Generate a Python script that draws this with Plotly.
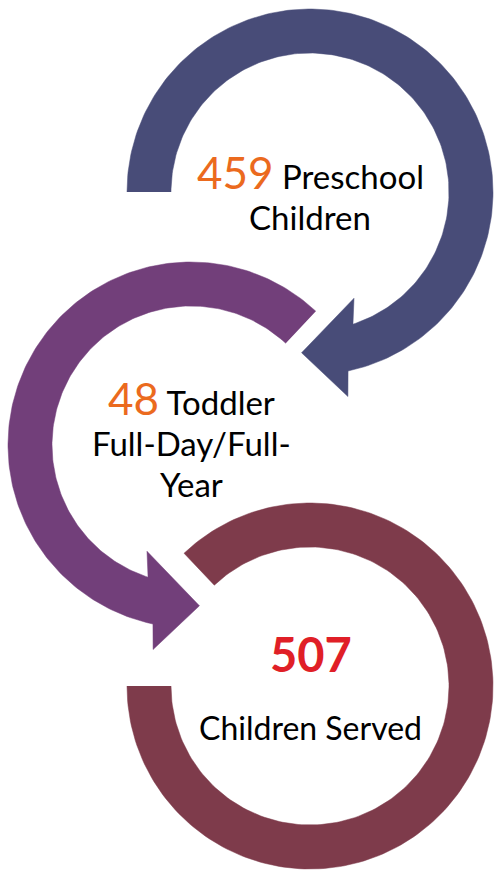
import numpy as np
import plotly.graph_objects as go

# Data
counts = [459, 48, 507]
labels = ["Preschool", "Children", "Toddler", "Full-Day/Full-", "Year", "Children Served"]

# Geometry (pixel space, y down)
W, H = 495, 871
R_OUT, R_IN = 183, 139
centers = [(310, 192), (191, 445), (310, 686)]
colors = ["#484C78", "#723F7A", "#7E3B4B"]
ORANGE = "#EB6A1E"
RED = "#E01F27"


def pt(c, r, a):
    t = np.radians(a)
    return c[0] + r * np.cos(t), c[1] - r * np.sin(t)


def arc(c, r, a0, a1, n=200):
    t = np.radians(np.linspace(a0, a1, n))
    return list(c[0] + r * np.cos(t)), list(c[1] - r * np.sin(t))


def arrow(c, a_start, head, mirror=False):
    # head: (r, angle) for inner head, shaft inner end, shaft outer end, outer head, tip
    if mirror:
        head = [(r, 180 - a) for r, a in head]
    hi, si, so, ho, tip = head
    xs, ys = arc(c, R_OUT, a_start, so[1])
    for r, a in [ho, tip, hi, si]:
        x, y = pt(c, r, a)
        xs.append(x)
        ys.append(y)
    xi, yi = arc(c, R_IN, si[1], a_start)
    xs += xi
    ys += yi
    return xs, ys


head_top = [(115, -67.5), (139, -72), (183, -78), (208, -79.5), (161, -93)]

fig = go.Figure()

shapes_xy = [
    arrow(centers[0], 180, head_top),
    arrow(centers[1], 47, head_top, mirror=True),
]
# bottom ring: open ring from 180 going round to 133.5
xo, yo = arc(centers[2], R_OUT, 180, 493.5)
xi, yi = arc(centers[2], R_IN, 493.5, 180)
shapes_xy.append((xo + xi, yo + yi))

for (xs, ys), col in zip(shapes_xy, colors):
    fig.add_trace(go.Scatter(x=xs, y=ys, mode="lines", fill="toself",
                             fillcolor=col, line=dict(color=col, width=0.5),
                             hoverinfo="skip", showlegend=False))

FONT = "Lato"
TXT = 33
NUM = 44


def line(x, y, text, size=TXT):
    fig.add_annotation(x=x, y=y, text=text, showarrow=False, xanchor="center",
                       yanchor="middle", font=dict(family=FONT, size=size, color="black"))


line(310, 172, f"<span style='color:{ORANGE};font-size:{NUM}px'>{counts[0]}</span> {labels[0]}")
line(310, 217, labels[1])
line(191, 398, f"<span style='color:{ORANGE};font-size:{NUM}px'>{counts[1]}</span> {labels[2]}")
line(191, 443, labels[3])
line(191, 484, labels[4])
line(311, 654, f"<b><span style='color:{RED}'>{counts[2]}</span></b>", size=47)
line(310, 727, labels[5], size=32)

fig.update_layout(
    width=W, height=H,
    margin=dict(l=0, r=0, t=0, b=0),
    paper_bgcolor="white", plot_bgcolor="white",
    xaxis=dict(range=[0, W], visible=False, fixedrange=True),
    yaxis=dict(range=[H, 0], visible=False, fixedrange=True),
)

fig.write_html("out.html", config={"displayModeBar": False},
               post_script="document.body.style.margin='0';document.body.style.overflow='hidden';")
